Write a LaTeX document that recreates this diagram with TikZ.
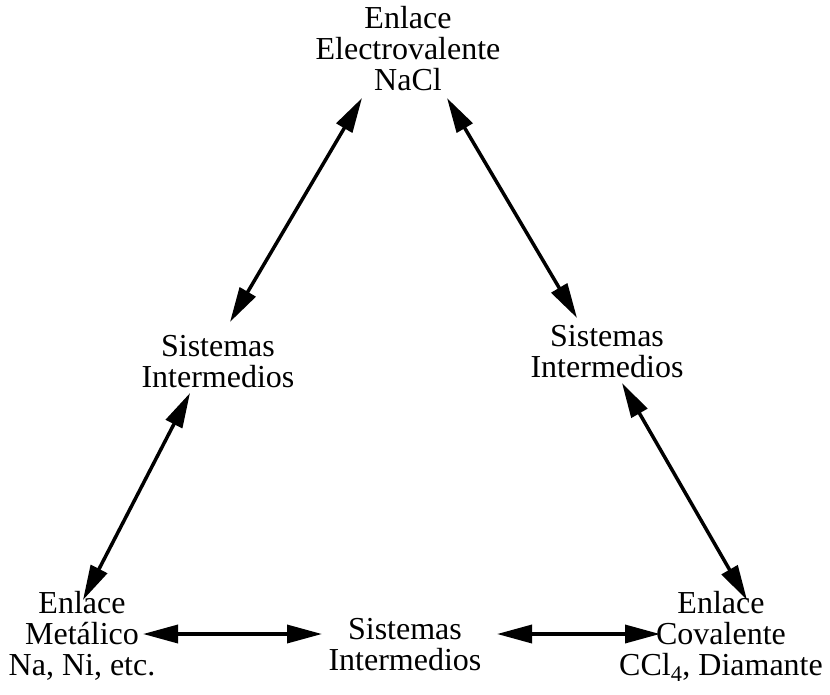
\documentclass[tikz,border=0pt]{standalone}
\usepackage{fontspec}
\setmainfont{Liberation Serif}
\usetikzlibrary{arrows.meta,calc}
\begin{document}
\begin{tikzpicture}[x=1pt,y=-1pt,
  lbl/.style={align=center,inner sep=0pt,font=\fontsize{32}{31}\selectfont},
  arr/.style={line width=3.5pt,{Triangle[length=35pt,width=18pt]}-{Triangle[length=35pt,width=18pt]}}]
\useasboundingbox (0,0) rectangle (830,694);
\node[lbl] (top) at (408,49) {Enlace\\Electrovalente\\NaCl};
\node[lbl] (lmid) at (218,362) {Sistemas\\Intermedios};
\node[lbl] (rmid) at (607,352) {Sistemas\\Intermedios};
\node[lbl] (bl) at (82,636) {Enlace\\Metálico\\Na, Ni, etc.};
\node[lbl] (bm) at (405,645) {Sistemas\\Intermedios};
\node[lbl] (br) at (721,636) {Enlace\\Covalente\\CCl\textsubscript{4}, Diamante};
\draw[arr] ($(top.center)+(-46,49)$) -- ($(lmid.center)+(12,-40)$);
\draw[arr] ($(top.center)+(39,49)$) -- ($(rmid.center)+(-30,-34)$);
\draw[arr] ($(lmid.center)+(-28,31)$) -- ($(bl.center)+(1,-36)$);
\draw[arr] ($(rmid.center)+(15,31)$) -- ($(br.center)+(26,-36)$);
\draw[arr] ($(bl.center)+(61,-2)$) -- ($(bm.center)+(-83,-11)$);
\draw[arr] ($(bm.center)+(92,-11)$) -- ($(br.center)+(-61,-2)$);
\end{tikzpicture}
\end{document}
